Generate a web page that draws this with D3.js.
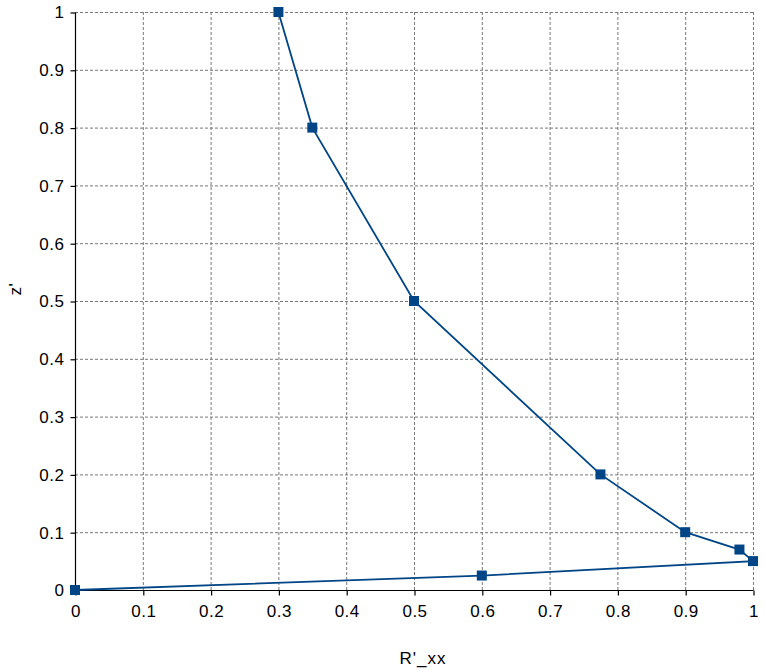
<!DOCTYPE html>
<html><head><meta charset="utf-8">
<script src="https://cdn.jsdelivr.net/npm/d3@7"></script>
<style>body{margin:0;background:#fff}svg{display:block}</style>
</head><body>
<svg id="c" width="765" height="670"></svg>
<script>
const xVals = [0, 0.6, 1, 0.98, 0.9, 0.775, 0.5, 0.35, 0.3];
const zVals = [0, 0.025, 0.05, 0.07, 0.1, 0.2, 0.5, 0.8, 1];
const xTicks = [0,0.1,0.2,0.3,0.4,0.5,0.6,0.7,0.8,0.9,1];
const yTicks = [0,0.1,0.2,0.3,0.4,0.5,0.6,0.7,0.8,0.9,1];
const xLabel = "R'_xx", yLabel = "z'";

const svg = d3.select("#c");
const L=75, R=753, T=12, B=590;
const x = d3.scaleLinear().domain([0,1]).range([L,R]);
const y = d3.scaleLinear().domain([0,1]).range([B,T]);
const font = "'Liberation Sans', Arial, sans-serif";
const col = "#004586";

// grid
const g = svg.append("g");
g.selectAll(".vg").data(xTicks.slice(1)).enter().append("line")
 .attr("x1",d=>x(d)+0.5).attr("x2",d=>x(d)+0.5).attr("y1",T).attr("y2",B)
 .attr("stroke","#777").attr("stroke-dasharray","3,2").attr("stroke-width",1);
g.selectAll(".hg").data(yTicks.slice(1)).enter().append("line")
 .attr("y1",d=>y(d)+0.5).attr("y2",d=>y(d)+0.5).attr("x1",L).attr("x2",R)
 .attr("stroke","#777").attr("stroke-dasharray","3,2").attr("stroke-width",1);

// axes
const xa = svg.append("g").attr("transform",`translate(0.5,${B+0.5})`)
 .call(d3.axisBottom(x).tickValues(xTicks).tickFormat(d3.format("")).tickSize(5).tickPadding(9));
const ya = svg.append("g").attr("transform",`translate(${L+0.5},0.5)`)
 .call(d3.axisLeft(y).tickValues(yTicks).tickFormat(d3.format("")).tickSize(5).tickPadding(6));
[xa,ya].forEach(a=>{
  a.selectAll("path,line").attr("stroke","#000").attr("stroke-width",1.2);
  a.selectAll("text").attr("font-family",font).attr("font-size",17).attr("fill","#000")
   .attr("letter-spacing","0.5px");
});
xa.select(".domain").attr("d",`M${L},0H${R}`);
ya.select(".domain").attr("d",`M0,${T}V${B}`);

// line
const pts = xVals.map((v,i)=>[v,zVals[i]]);
svg.append("path").datum(pts)
 .attr("d", d3.line().x(d=>x(d[0])).y(d=>y(d[1])))
 .attr("fill","none").attr("stroke",col).attr("stroke-width",1.8);
svg.selectAll(".m").data(pts).enter().append("rect")
 .attr("x",d=>x(d[0])-5).attr("y",d=>y(d[1])-5).attr("width",10).attr("height",10)
 .attr("fill",col);

// labels
svg.append("text").attr("x",423).attr("y",664).attr("text-anchor","middle")
 .attr("font-family",font).attr("font-size",17).attr("letter-spacing","1px").text(xLabel);
svg.append("text").attr("transform",`translate(21,289) rotate(-90)`).attr("text-anchor","middle")
 .attr("font-family",font).attr("font-size",17).attr("letter-spacing","0.5px").text(yLabel);
</script>
</body></html>
